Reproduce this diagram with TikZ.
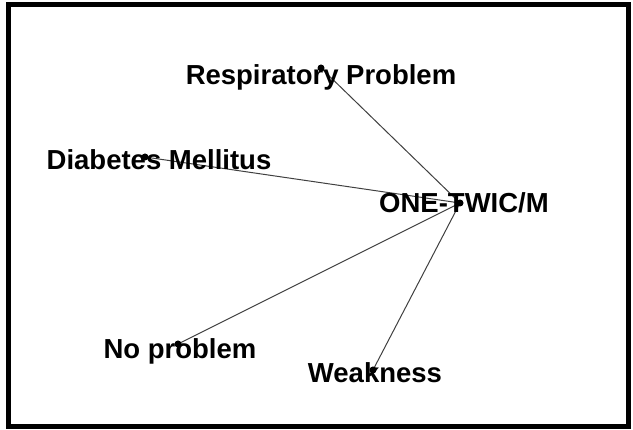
\documentclass[tikz,border=0pt]{standalone}
\usepackage{fontspec}
\setmainfont{Liberation Sans}
\usetikzlibrary{positioning}
\tikzset{
    x=1pt, y=-1pt, % one unit per pixel of the picture, y going down
    actor/.style={circle, fill=black, inner sep=0pt, minimum size=7pt}, % the small dots
    tie/.style={draw=black!75, line width=1pt}, % the links between dots
    tag/.style={anchor=base, inner sep=0pt, font=\fontsize{27.5}{32}\selectfont\bfseries}, % the labels
}

\begin{document}
\begin{tikzpicture}
    \useasboundingbox (0,0) rectangle (633,430);
    \draw[line width=5pt] (8,5) rectangle (628,427);

    \coordinate (hub) at (460,203);
    \coordinate (resp) at (321,68);
    \coordinate (diab) at (145,157);
    \coordinate (nop) at (178,344);
    \coordinate (weak) at (373,370);

    \path[tie]
        (resp) edge (hub)
        (diab) edge (hub)
        (nop) edge (hub)
        (weak) edge (hub);

    \node[tag] (hubl) at (464,213) {ONE-TWIC/M};
    \node[tag] (respl) at (321,85) {Respiratory Problem};
    \node[tag] (diabl) at (159,170) {Diabetes Mellitus};
    \node[tag] (nopl) at (180,359) {No problem};
    \node[tag] (weakl) at (375,383) {Weakness};

    % dots on top of the labels
    \foreach \p in {hub,resp,diab,nop,weak}
        \node[actor] at (\p) {};
\end{tikzpicture}
\end{document}
